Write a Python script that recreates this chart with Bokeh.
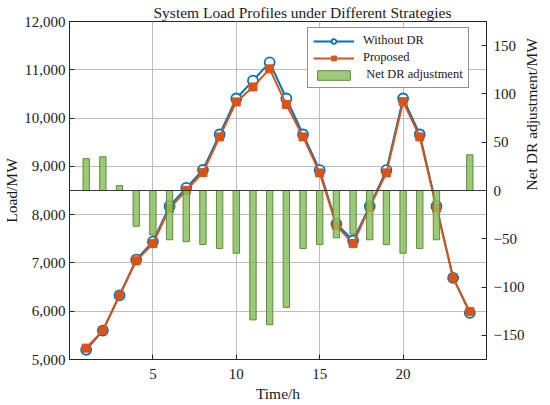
import math
from bokeh.plotting import figure
from bokeh.models import (Range1d, LinearAxis, FixedTicker, NumeralTickFormatter,
                          Legend, LegendItem, CustomJSTickFormatter, Span)
from bokeh.embed import file_html
from bokeh.resources import INLINE

# ---- data ----
hours = list(range(1, 25))
without_dr = [5200, 5600, 6330, 7070, 7440, 8175, 8555, 8925, 9660, 10405, 10775, 11155,
              10405, 9660, 8920, 7810, 7465, 8175, 8920, 10405, 9660, 8175, 6690, 5965]
proposed = [5235, 5600, 6330, 7045, 7400, 8130, 8505, 8870, 9610, 10335, 10645, 11020,
            10280, 9610, 8865, 7775, 7400, 8155, 8865, 10340, 9610, 8135, 6690, 5990]
net_dr = [33, 35, 5, -37, -46, -51, -53, -56, -60, -65, -134, -139,
          -121, -60, -56, -49, -45, -51, -56, -65, -60, -51, 0, 37]
x_ticks = [5, 10, 15, 20]
load_ticks = [5000, 6000, 7000, 8000, 9000, 10000, 11000, 12000]
dr_ticks = [-150, -100, -50, 0, 50, 100, 150]

FONT = "Liberation Serif"
DARK = "#262626"
TXT = "#1a1a1a"
BLUE = "#0072BD"
ORANGE = "#D95319"

FW, FH = 417, 338

p = figure(frame_width=FW, frame_height=FH, output_backend="svg", toolbar_location=None,
           x_range=Range1d(0, 25), y_range=Range1d(5000, 12000),
           title="System Load Profiles under Different Strategies",
           min_border_left=0, min_border_right=0, min_border_top=0, min_border_bottom=0,
           background_fill_color="white", border_fill_color="white")
p.extra_y_ranges = {"dr": Range1d(-175, 175)}

p.title.text_font = FONT
p.title.text_font_size = "15.5px"
p.title.text_font_style = "normal"
p.title.text_color = TXT
p.title.align = "left"
p.title.offset = 84
p.title.standoff = 2

p.outline_line_color = DARK
p.outline_line_width = 1


def style(ax):
    ax.axis_line_color = DARK
    ax.major_tick_line_color = DARK
    ax.major_tick_in = 5
    ax.major_tick_out = 0
    ax.minor_tick_line_color = None
    ax.major_label_text_font = FONT
    ax.major_label_text_font_size = "15px"
    ax.major_label_text_color = TXT
    ax.axis_label_text_font = FONT
    ax.axis_label_text_font_size = "15.5px"
    ax.axis_label_text_font_style = "normal"
    ax.axis_label_text_color = TXT


xa = p.xaxis[0]
xa.ticker = FixedTicker(ticks=x_ticks)
xa.axis_label = "Time/h"
xa.major_label_standoff = 9
xa.axis_label_standoff = 3
style(xa)

ya = p.yaxis[0]
ya.ticker = FixedTicker(ticks=load_ticks)
ya.formatter = NumeralTickFormatter(format="0,0")
ya.axis_label = "Load/MW"
ya.major_label_standoff = 4
ya.axis_label_standoff = 1
style(ya)

ra = LinearAxis(y_range_name="dr", ticker=FixedTicker(ticks=dr_ticks),
                formatter=CustomJSTickFormatter(
                    code="return tick < 0 ? '\\u2212' + Math.abs(tick) : String(tick);"),
                axis_label="Net DR adjustment/MW")
ra.axis_label_orientation = math.pi / 2
ra.major_label_standoff = 7
ra.axis_label_standoff = 4
style(ra)
p.add_layout(ra, "right")

p.xgrid.ticker = FixedTicker(ticks=x_ticks)
p.ygrid.ticker = FixedTicker(ticks=load_ticks)
for g in (p.xgrid[0], p.ygrid[0]):
    g.grid_line_color = "#bdbdbd"
    g.grid_line_width = 1

# ---- series ----
l1 = p.line(hours, without_dr, line_color=BLUE, line_width=2)
s1 = p.scatter(hours, without_dr, marker="circle", size=10, line_color=BLUE,
               line_width=1.8, fill_color="white")
l2 = p.line(hours, proposed, line_color=ORANGE, line_width=2)
s2 = p.scatter(hours, proposed, marker="square", size=8, line_color=ORANGE,
               fill_color=ORANGE)
bars = p.vbar(x=hours, top=net_dr, bottom=0, width=0.38, y_range_name="dr",
              fill_color="#8cc063", line_color="#5e8c35", fill_alpha=0.85, line_width=1)

p.add_layout(Span(location=0, dimension="width", y_range_name="dr",
                  line_color="#3a3a3a", line_width=1))

legend = Legend(items=[
    LegendItem(label="Without DR", renderers=[l1, s1]),
    LegendItem(label="Proposed", renderers=[l2, s2]),
    LegendItem(label=" Net DR adjustment", renderers=[bars]),
], location=(238, 271))
legend.label_text_font = FONT
legend.label_text_font_size = "12.5px"
legend.label_text_color = TXT
legend.glyph_width = 41
legend.glyph_height = 12
legend.label_standoff = 9
legend.label_height = 15
legend.spacing = 2
legend.padding = 5
legend.margin = 0
legend.border_line_color = DARK
legend.border_line_width = 1
legend.background_fill_color = "white"
legend.background_fill_alpha = 1
p.add_layout(legend, "center")

open("out.html", "w").write(file_html(p, INLINE))
